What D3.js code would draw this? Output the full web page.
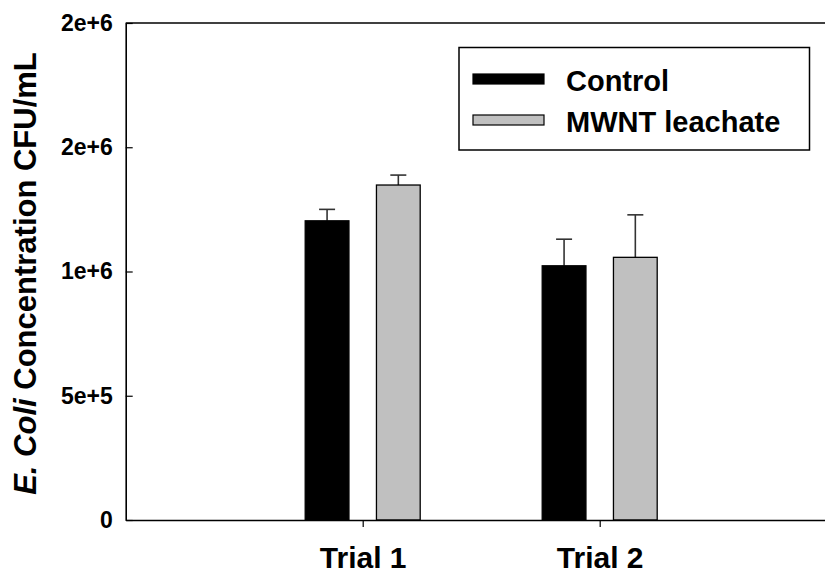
<!DOCTYPE html>
<html>
<head>
<meta charset="utf-8">
<script src="https://cdn.jsdelivr.net/npm/d3@7"></script>
<style>
  html, body { margin: 0; padding: 0; background: #fff; }
  svg { display: block; }
  svg text { font-family: "Liberation Sans", Arial, Helvetica, sans-serif; font-weight: 700; }
</style>
</head>
<body>
<svg id="chart" width="825" height="575"></svg>
<script>
// Trials and treatment series
const trials = ["Trial 1", "Trial 2"];
const series = ["Control", "MWNT leachate"];
const seriesColors = ["#000000", "#c0c0c0"];

// Mean E. coli concentration (CFU/mL) and standard deviation per trial
const controlMeans = [1204000, 1023000];
const controlErrors = [46000, 107000];
const leachateMeans = [1348000, 1057000];
const leachateErrors = [40000, 171000];

// Y axis ticks and their printed labels (rounded to one significant digit)
const yTickValues = [0, 500000, 1000000, 1500000, 2000000];
const yTickLabels = ["0", "5e+5", "1e+6", "2e+6", "2e+6"];

const FONT = "'Liberation Sans', Arial, Helvetica, sans-serif";
const svg = d3.select("#chart");
const W = 825, H = 575;
const plotLeft = 125.7, plotTop = 23, plotBottom = 520, plotRight = 836.7;

svg.append("rect").attr("width", W).attr("height", H).attr("fill", "#fff");

// Category positions sit at 1 and 2 on a linear axis running 0..3
const x = d3.scaleLinear().domain([0, 3]).range([plotLeft, plotRight]);
const y = d3.scaleLinear().domain([0, 2000000]).range([plotBottom, plotTop]);
const sub = d3.scaleBand().domain(series).range([-57.5, 57.5]).paddingInner(0.386).paddingOuter(0);

const rows = [];
trials.forEach((t, i) => {
  rows.push({ trial: i + 1, s: series[0], v: controlMeans[i], e: controlErrors[i], c: seriesColors[0] });
  rows.push({ trial: i + 1, s: series[1], v: leachateMeans[i], e: leachateErrors[i], c: seriesColors[1] });
});

const g = svg.append("g");

// Error bars (upper only) drawn beneath the bars
const eb = g.append("g").attr("stroke", "#333").attr("stroke-width", 1.6).attr("fill", "none");
rows.forEach(d => {
  const cx = x(d.trial) + sub(d.s) + sub.bandwidth() / 2;
  eb.append("line").attr("x1", cx).attr("x2", cx).attr("y1", y(d.v)).attr("y2", y(d.v + d.e));
  eb.append("line").attr("x1", cx - 8).attr("x2", cx + 8).attr("y1", y(d.v + d.e)).attr("y2", y(d.v + d.e));
});

// Bars
g.append("g").selectAll("rect").data(rows).join("rect")
  .attr("x", d => x(d.trial) + sub(d.s))
  .attr("y", d => y(d.v))
  .attr("width", sub.bandwidth())
  .attr("height", d => y(0) - y(d.v))
  .attr("fill", d => d.c)
  .attr("stroke", "#000")
  .attr("stroke-width", 1.3);

// Y axis with inward ticks
const yAxis = d3.axisLeft(y)
  .tickValues(yTickValues)
  .tickFormat((d, i) => yTickLabels[i])
  .tickSizeInner(-7)
  .tickSizeOuter(0)
  .tickPadding(13);
const ya = svg.append("g").attr("transform", `translate(${plotLeft},0)`).call(yAxis)
  .attr("font-family", FONT).attr("font-weight", "bold");
ya.select(".domain").attr("stroke", "#000").attr("stroke-width", 1.6);
ya.selectAll(".tick line").attr("stroke", "#000").attr("stroke-width", 1.2);
ya.selectAll(".tick text")
  .attr("font-size", 23).attr("font-weight", "bold")
  .attr("font-family", FONT).attr("fill", "#000");

// X axis with outward ticks and trial labels
const xAxis = d3.axisBottom(x)
  .tickValues([1, 2])
  .tickFormat((d, i) => trials[i])
  .tickSizeInner(7)
  .tickSizeOuter(0)
  .tickPadding(20);
const xa = svg.append("g").attr("transform", `translate(0,${plotBottom})`).call(xAxis)
  .attr("font-family", FONT).attr("font-weight", "bold");
xa.select(".domain").attr("stroke", "#000").attr("stroke-width", 1.6);
xa.selectAll(".tick line").attr("stroke", "#000").attr("stroke-width", 1.2);
xa.selectAll(".tick text")
  .attr("font-size", 30).attr("font-weight", "bold")
  .attr("font-family", FONT).attr("fill", "#000");

// Top frame line
svg.append("line").attr("x1", plotLeft).attr("x2", plotRight).attr("y1", plotTop).attr("y2", plotTop)
  .attr("stroke", "#000").attr("stroke-width", 1.6);

// Y axis title
const yt = svg.append("text")
  .attr("transform", `translate(36,${(plotTop + plotBottom) / 2 + 2}) rotate(-90)`)
  .attr("text-anchor", "middle")
  .attr("font-family", FONT)
  .attr("font-weight", "bold")
  .attr("font-size", 31)
  .attr("fill", "#000");
yt.append("tspan").attr("font-style", "italic").attr("font-weight", "bold").text("E. Coli");
yt.append("tspan").attr("font-weight", "bold").text(" Concentration CFU/mL");

// Legend
const lg = svg.append("g");
lg.append("rect").attr("x", 459).attr("y", 47.5).attr("width", 350.5).attr("height", 102.5)
  .attr("fill", "#fff").attr("stroke", "#000").attr("stroke-width", 1.5);
series.forEach((s, i) => {
  const base = 91 + i * 41;
  lg.append("rect").attr("x", 473).attr("y", base - 17).attr("width", 71).attr("height", 10)
    .attr("fill", seriesColors[i]).attr("stroke", "#000").attr("stroke-width", 1.2);
  lg.append("text").attr("x", 566).attr("y", base)
    .attr("font-family", FONT).attr("font-weight", "bold")
    .attr("font-size", 29).attr("fill", "#000").text(s);
});
</script>
</body>
</html>
